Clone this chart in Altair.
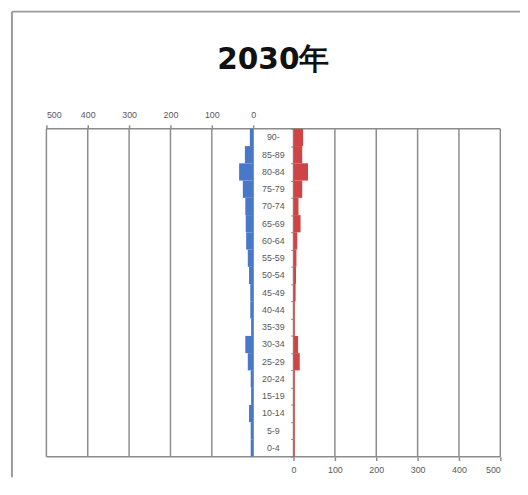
import altair as alt
import pandas as pd

# ---- data ----
ages = ["0-4", "5-9", "10-14", "15-19", "20-24", "25-29", "30-34", "35-39",
        "40-44", "45-49", "50-54", "55-59", "60-64", "65-69", "70-74",
        "75-79", "80-84", "85-89", "90-"]
male = [6, 6, 10, 5, 6, 13, 19, 5, 7, 7, 10, 13, 17, 18, 19, 25, 34, 20, 8]
female = [3, 3, 3, 3, 3, 15, 11, 3, 3, 5, 6, 7, 9, 17, 12, 21, 35, 21, 23]
ticks = [0, 100, 200, 300, 400, 500]
title_text = "2030年"

W, H = 516, 473
GAP = 50  # half-gap (in value units) between the two halves

df = pd.DataFrame({"age": ages, "male": male, "female": female})
df["idx"] = range(len(ages))

grid = pd.DataFrame({"u": [-(GAP + t) for t in ticks] + [GAP + t for t in ticks]})

xscale = alt.Scale(domain=[-550, -50, 50, 550], range=[35, 245, 286, 496],
                   nice=False, zero=False)
yscale = alt.Scale(domain=[0, 19], range=[452, 119], nice=False, zero=False)

GRID_C = "#8c8c8c"
LABEL_C = "#595959"
FONT = "Liberation Sans"

base = alt.Chart(df)

gridlines = alt.Chart(grid).mark_rule(color=GRID_C, strokeWidth=1.5).encode(
    x=alt.X("u:Q", scale=xscale, axis=None),
    y=alt.Y(datum=0, scale=yscale, axis=None),
    y2=alt.Y2(datum=19),
)

hlines = alt.Chart(pd.DataFrame({"yy": [0, 19]})).mark_rule(
    color=GRID_C, strokeWidth=1.5).encode(
    y=alt.Y("yy:Q", scale=yscale, axis=None),
    x=alt.X(datum=-550, scale=xscale, axis=None),
    x2=alt.X2(datum=550),
)

left_bars = base.transform_calculate(
    lx=f"-{GAP} - datum.male", l0=f"-{GAP}", idx1="datum.idx + 1"
).mark_rect(color="#4a78c8").encode(
    x=alt.X("lx:Q", scale=xscale,
            axis=alt.Axis(orient="top", offset=-119,
                          values=[-(GAP + t) for t in ticks],
                          labelExpr=f"abs(datum.value) - {GAP}",
                          domain=False, grid=False, tickSize=4,
                          tickColor=GRID_C, tickWidth=1.5,
                          labelFont=FONT, labelFontSize=9,
                          labelColor=LABEL_C, labelPadding=5, title=None)),
    x2="l0:Q",
    y=alt.Y("idx:Q", scale=yscale, axis=None),
    y2="idx1:Q",
)

right_bars = base.transform_calculate(
    rx=f"{GAP} + datum.female", r0=f"{GAP}", idx1="datum.idx + 1"
).mark_rect(color="#cf4545").encode(
    x=alt.X("rx:Q", scale=xscale,
            axis=alt.Axis(orient="bottom", offset=-(H - 452),
                          values=[GAP + t for t in ticks],
                          labelExpr=f"datum.value - {GAP}",
                          domain=False, grid=False, tickSize=4,
                          tickColor=GRID_C, tickWidth=1.5,
                          labelFont=FONT, labelFontSize=9,
                          labelColor=LABEL_C, labelPadding=5, title=None)),
    x2="r0:Q",
    y=alt.Y("idx:Q", scale=yscale,
            axis=alt.Axis(orient="left", offset=-286,
                          values=list(range(20)), labels=False,
                          domain=False, grid=False, tickSize=3,
                          tickColor=GRID_C, tickWidth=1, title=None)),
    y2="idx1:Q",
)

age_labels = base.transform_calculate(mid="datum.idx + 0.5").mark_text(
    font=FONT, fontSize=9, color=LABEL_C, baseline="middle", align="center"
).encode(
    x=alt.X(datum=0, scale=xscale, axis=None),
    y=alt.Y("mid:Q", scale=yscale, axis=None),
    text="age:N",
)

title = alt.Chart(pd.DataFrame({"t": [title_text]})).mark_text(
    font="DejaVu Sans", fontSize=30, fontWeight="bold", color="#111111",
    baseline="middle", align="center"
).encode(
    x=alt.X(datum=0, scale=xscale, axis=None),
    y=alt.value(49),
    text="t:N",
)

border_top = alt.Chart(pd.DataFrame({"a": [0]})).mark_rule(
    color="#9a9a9a", strokeWidth=2).encode(
    x=alt.value(0), x2=alt.value(W), y=alt.value(0))
border_left = alt.Chart(pd.DataFrame({"a": [0]})).mark_rule(
    color="#9a9a9a", strokeWidth=2).encode(
    x=alt.value(0), y=alt.value(0), y2=alt.value(H))

chart = alt.layer(
    gridlines, hlines, left_bars, right_bars, age_labels, title,
    border_top, border_left
).resolve_axis(x="independent", y="independent").properties(
    width=W, height=H,
    padding={"left": 4, "top": 0, "right": 0, "bottom": 0},
    autosize="none",
    background="white",
).configure_view(stroke=None)

chart.save("out.html", embed_options={"renderer": "svg", "actions": False})
